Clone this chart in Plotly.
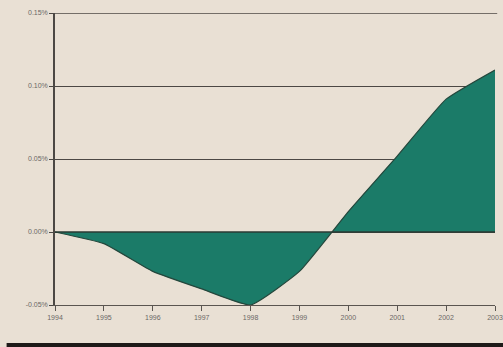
import plotly.graph_objects as go

years = [1994, 1995, 1996, 1997, 1998, 1999, 2000, 2001, 2002, 2003]
values = [0.0, -0.008, -0.027, -0.039, -0.050, -0.027, 0.014, 0.052, 0.091, 0.111]
ytick_vals = [-0.05, 0.0, 0.05, 0.10, 0.15]
ytick_text = ["-0.05%", "0.00%", "0.05%", "0.10%", "0.15%"]
xtick_text = [str(y) for y in years]

bg = "#e9e0d4"
fig = go.Figure()
fig.add_trace(go.Scatter(
    x=years, y=values, mode="lines", fill="tozeroy",
    fillcolor="#1b7b68", line=dict(color="#24473c", width=1.2, shape="spline", smoothing=0.4),
    hoverinfo="skip", showlegend=False,
))
fig.update_layout(
    width=503, height=347,
    margin=dict(l=55, r=8, t=13, b=42),
    paper_bgcolor=bg, plot_bgcolor=bg,
    font=dict(family="Liberation Sans, Arial, sans-serif", size=7, color="#6b6866"),
    xaxis=dict(
        range=[1994, 2003], tickvals=years, ticktext=xtick_text, automargin=False,
        showgrid=False, zeroline=False, showline=True, linecolor="#5a5550", linewidth=1.2,
        ticks="outside", ticklen=5, tickcolor="#5a5550", tickwidth=1.2,
    ),
    yaxis=dict(
        range=[-0.05, 0.15], tickvals=ytick_vals, ticktext=ytick_text, automargin=False,
        showgrid=True, gridcolor="#4c4844", gridwidth=1.3, zeroline=False,
        showline=True, linecolor="#4c4844", linewidth=1.5,
        ticks="outside", ticklen=4, tickcolor="#4c4844",
    ),
    shapes=[dict(type="rect", xref="paper", yref="paper", x0=-0.11, x1=1.03,
                 y0=-0.16, y1=-0.13, fillcolor="#1e1a18", line=dict(width=0), layer="above"),
            dict(type="line", xref="paper", yref="y", x0=0, x1=1.005, y0=0.15, y1=0.15,
                 line=dict(color="#4c4844", width=1.3), layer="above"),
            dict(type="line", xref="x", yref="y", x0=1994, x1=2003, y0=0, y1=0,
                 line=dict(color="#2a3a33", width=1.5), layer="above")],
)
fig.write_html("out.html")
